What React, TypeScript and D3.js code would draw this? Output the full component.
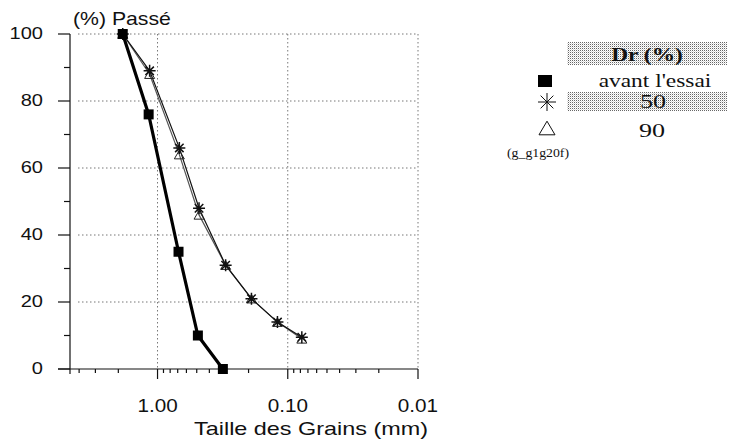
import React from "react";
import * as d3 from "d3";

// Grain size distribution (sieve sizes in mm, % passing)
const sizesBefore = [1.85, 1.17, 0.69, 0.49, 0.315];
const passBefore = [100, 76, 35, 10, 0];

const sizesAfter = [1.85, 1.15, 0.68, 0.48, 0.3, 0.19, 0.12, 0.078];
const passDr50 = [100, 89, 66, 48, 31, 21, 14, 9.5];
const passDr90 = [100, 88, 64, 46, 31, 21, 14, 9];

const yTicks = [0, 20, 40, 60, 80, 100];
const yMinorTicks = [10, 30, 50, 70, 90];
const xMajorTicks = [1, 0.1, 0.01];
const xMajorLabels = ["1.00", "0.10", "0.01"];
const yTitle = "(%) Passé";
const xTitle = "Taille des Grains (mm)";
const legendTitle = "Dr (%)";
const legendLabels = ["avant l'essai", "50", "90"];
const figureCode = "(g_g1g20f)";

const W = 729;
const H = 443;
const SANS = "'Liberation Sans', Arial, sans-serif";
const SERIF = "'Liberation Serif', 'Times New Roman', serif";

const x = d3.scaleLog().domain([4.7, 0.01]).range([70, 418]);
const y = d3.scaleLinear().domain([0, 100]).range([369, 34]);

const xMinorTicks = x
  .ticks()
  .filter((t) => !xMajorTicks.some((m) => Math.abs(m - t) < 1e-9) && t < 4.7 && t > 0.01);

const line = d3
  .line<[number, number]>()
  .x((d) => x(d[0]))
  .y((d) => y(d[1]));

function asteriskPath(cx: number, cy: number, r: number) {
  const parts: string[] = [];
  for (let i = 0; i < 4; i++) {
    const a = (i * Math.PI) / 4;
    const dx = Math.cos(a) * r;
    const dy = Math.sin(a) * r;
    parts.push(`M${cx - dx},${cy - dy}L${cx + dx},${cy + dy}`);
  }
  return parts.join("");
}

function trianglePath(cx: number, cy: number, s: number) {
  const h = s * 0.85;
  return `M${cx},${cy - h / 2}L${cx + s / 2},${cy + h / 2}L${cx - s / 2},${cy + h / 2}Z`;
}

// Text drawn with a horizontal stretch around its anchor point
function WideText(props: {
  x: number;
  y: number;
  sx: number;
  anchor?: "start" | "middle" | "end";
  size: number;
  family: string;
  weight?: string;
  children: React.ReactNode;
}) {
  const { x: tx, y: ty, sx, anchor = "start", size, family, weight = "normal", children } = props;
  return (
    <g transform={`translate(${tx},${ty}) scale(${sx},1)`}>
      <text
        x={0}
        y={0}
        textAnchor={anchor}
        fontSize={size}
        fontFamily={family}
        fontWeight={weight}
        fill="#111"
      >
        {children}
      </text>
    </g>
  );
}

export default function App() {
  const x0 = x.range()[0];
  const x1 = x.range()[1];
  const yBottom = y(0);
  const yTop = y(100);

  const before = sizesBefore.map((s, i) => [s, passBefore[i]] as [number, number]);
  const dr50 = sizesAfter.map((s, i) => [s, passDr50[i]] as [number, number]);
  const dr90 = sizesAfter.map((s, i) => [s, passDr90[i]] as [number, number]);

  return (
    <div style={{ position: "absolute", left: 0, top: 0 }}>
      <svg width={W} height={H} style={{ display: "block", background: "#fff" }}>
        <defs>
          <pattern id="stipple" width="2" height="2" patternUnits="userSpaceOnUse">
            <rect width="2" height="2" fill="#fff" />
            <rect width="1" height="1" fill="#666" />
            <rect x="1" y="1" width="1" height="1" fill="#d8d8d8" />
          </pattern>
        </defs>

        {/* dotted grid */}
        <g stroke="#777" strokeWidth={1} strokeDasharray="1.5,2.5" fill="none">
          {yTicks
            .filter((t) => t > 0)
            .map((t) => (
              <line key={`gy${t}`} x1={x0 + 8} x2={x1} y1={y(t)} y2={y(t)} />
            ))}
          {xMajorTicks.map((t) => (
            <line key={`gx${t}`} x1={x(t)} x2={x(t)} y1={yTop} y2={yBottom} />
          ))}
        </g>

        {/* axes */}
        <g stroke="#111" strokeWidth={1.2} fill="none">
          <line x1={x0} x2={x0} y1={yTop} y2={yBottom} />
          <line x1={x0 - 12} x2={x1} y1={yBottom} y2={yBottom} />
          {yTicks.map((t) => (
            <line key={`ty${t}`} x1={x0 - 12} x2={x0} y1={y(t)} y2={y(t)} />
          ))}
          {yMinorTicks.map((t) => (
            <line key={`tym${t}`} x1={x0 - 6} x2={x0} y1={y(t)} y2={y(t)} />
          ))}
          {xMajorTicks.map((t) => (
            <line key={`tx${t}`} x1={x(t)} x2={x(t)} y1={yBottom} y2={yBottom + 10} />
          ))}
          <line x1={x0} x2={x0} y1={yBottom} y2={yBottom + 5} />
          {xMinorTicks.map((t) => (
            <line key={`txm${t}`} x1={x(t)} x2={x(t)} y1={yBottom} y2={yBottom + 4} />
          ))}
        </g>

        {/* tick labels and titles */}
        {yTicks.map((t) => (
          <WideText key={`ly${t}`} x={43} y={y(t) + 5} sx={1.18} anchor="end" size={17} family={SANS}>
            {t}
          </WideText>
        ))}
        {xMajorTicks.map((t, i) => (
          <WideText key={`lx${t}`} x={x(t)} y={412} sx={1.15} anchor="middle" size={18} family={SANS}>
            {xMajorLabels[i]}
          </WideText>
        ))}
        <WideText x={73} y={25} sx={1.18} size={18} family={SANS}>
          {yTitle}
        </WideText>
        <WideText x={311} y={435} sx={1.3} anchor="middle" size={18} family={SANS}>
          {xTitle}
        </WideText>

        {/* Dr = 90 % */}
        <path d={line(dr90) || ""} fill="none" stroke="#555" strokeWidth={1.2} />
        {/* Dr = 50 % */}
        <path d={line(dr50) || ""} fill="none" stroke="#111" strokeWidth={1.2} />
        {dr90.map((d, i) => (
          <path
            key={`tri${i}`}
            d={trianglePath(x(d[0]), y(d[1]), 10)}
            fill="none"
            stroke="#222"
            strokeWidth={1}
          />
        ))}
        {dr50.map((d, i) => (
          <path
            key={`ast${i}`}
            d={asteriskPath(x(d[0]), y(d[1]), 6)}
            fill="none"
            stroke="#111"
            strokeWidth={1.5}
          />
        ))}

        {/* before test */}
        <path d={line(before) || ""} fill="none" stroke="#000" strokeWidth={3.2} />
        {before.map((d, i) => (
          <rect
            key={`sq${i}`}
            x={x(d[0]) - 5}
            y={y(d[1]) - 5}
            width={10}
            height={10}
            fill="#000"
          />
        ))}

        {/* legend */}
        <rect x={567} y={42} width={160} height={23} fill="url(#stipple)" />
        <rect x={567} y={92} width={160} height={19} fill="url(#stipple)" />
        <WideText x={647} y={61} sx={1.3} anchor="middle" size={18} family={SERIF} weight="bold">
          {legendTitle}
        </WideText>
        <rect x={538} y={75} width={14} height={12} fill="#000" />
        <WideText x={655} y={87} sx={1.3} anchor="middle" size={18} family={SERIF}>
          {legendLabels[0]}
        </WideText>
        <path d={asteriskPath(547, 102, 9)} stroke="#111" strokeWidth={1} fill="none" />
        <WideText x={653} y={108} sx={1.45} anchor="middle" size={18} family={SERIF}>
          {legendLabels[1]}
        </WideText>
        <path d={trianglePath(547, 128, 16)} stroke="#111" strokeWidth={1} fill="none" />
        <WideText x={652} y={137} sx={1.45} anchor="middle" size={18} family={SERIF}>
          {legendLabels[2]}
        </WideText>
        <WideText x={507} y={157} sx={1.15} size={12} family={SERIF}>
          {figureCode}
        </WideText>
      </svg>
    </div>
  );
}
